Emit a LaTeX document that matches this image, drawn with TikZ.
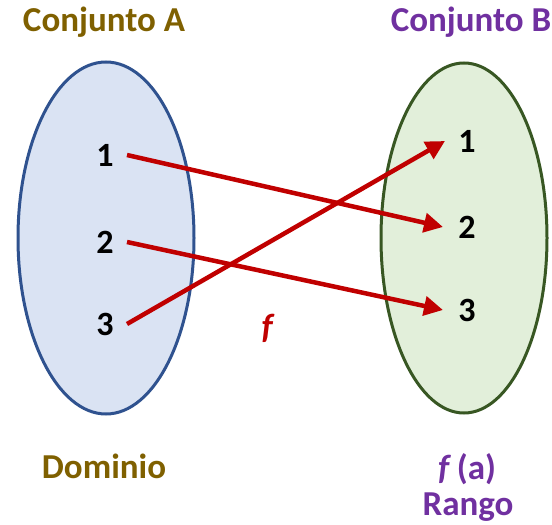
\documentclass[tikz,border=0pt]{standalone}
\usepackage{fontspec}
\setmainfont{Carlito}
\usetikzlibrary{arrows.meta}
\definecolor{brownA}{RGB}{127,96,0}
\definecolor{purpleB}{RGB}{112,48,160}
\definecolor{redF}{RGB}{192,0,0}
\definecolor{blueE}{RGB}{47,82,143}
\definecolor{blueF}{RGB}{218,227,243}
\definecolor{greenE}{RGB}{56,87,35}
\definecolor{greenF}{RGB}{226,239,218}
\begin{document}
\begin{tikzpicture}[x=1pt,y=-1pt,
  num/.style={font=\fontsize{34}{36}\selectfont\bfseries, text=black, inner sep=1pt},
  title/.style={font=\fontsize{35}{38}\selectfont\bfseries, inner sep=0pt},
  maparrow/.style={draw=redF, line width=4.5pt, -{Triangle[length=19pt,width=19pt]}}]
\useasboundingbox (0,0) rectangle (552,525);
\draw[blueE, line width=3pt, fill=blueF] (106,238) ellipse [x radius=88, y radius=176];
\draw[greenE, line width=3pt, fill=greenF] (464,238) ellipse [x radius=83, y radius=175];
\node[title, text=brownA] (tA) at (104,22) {Conjunto A};
\node[title, text=purpleB] (tB) at (471,22) {Conjunto B};
\node[title, text=brownA] (dom) at (104,466) {Dominio};
\node[title, text=purpleB] (fa) at (467,469) {\textit{f}\,(a)};
\node[title, text=purpleB] (rango) at (468,507) {Rango};
\node[title, text=redF] (f) at (268,328) {\textit{f}};
\node[num] (a1) at (105,155) {1};
\node[num] (a2) at (105,242) {2};
\node[num] (a3) at (105,324) {3};
\node[num] (b1) at (467,141) {1};
\node[num] (b2) at (467,227) {2};
\node[num] (b3) at (467,310) {3};
\draw[maparrow] ([xshift=22pt]a1.center) -- ([xshift=-24pt]b2.center);
\draw[maparrow] ([xshift=22pt]a2.center) -- ([xshift=-24pt]b3.center);
\draw[maparrow] ([xshift=22pt]a3.center) -- ([xshift=-22pt]b1.center);
\end{tikzpicture}
\end{document}
